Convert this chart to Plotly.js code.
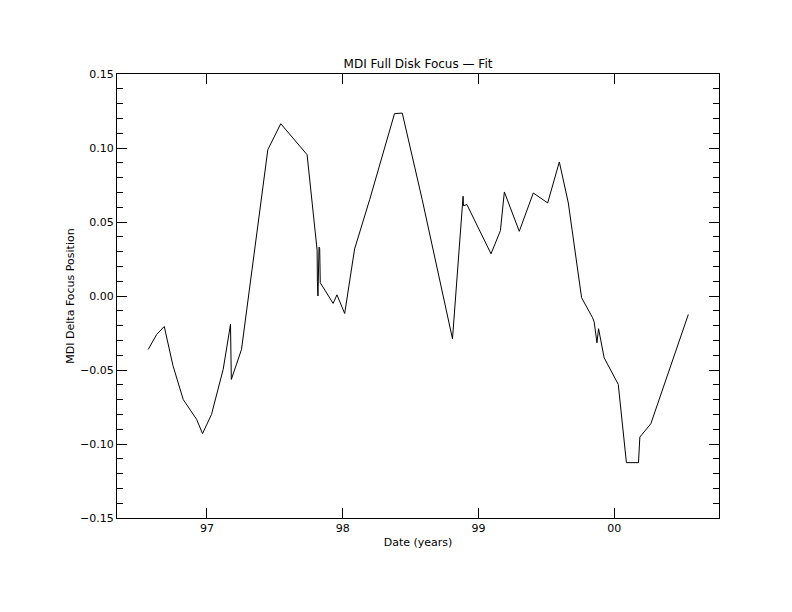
<!DOCTYPE html>
<html>
<head>
<meta charset="utf-8">
<script src="https://cdn.plot.ly/plotly-3.0.1.min.js"></script>
<style>html,body{margin:0;padding:0;background:#fff;}</style>
</head>
<body>
<div id="chart" style="width:792px;height:612px;"></div>
<script>
// Date in fractional years (97 = 1997.0, 100 = 2000.0)
const dateYears = [
  96.568, 96.630, 96.686, 96.750, 96.826, 96.924, 96.968, 97.034, 97.120, 97.174,
  97.180, 97.255, 97.449, 97.544, 97.738, 97.812, 97.814, 97.818, 97.826, 97.831,
  97.835, 97.930, 97.958, 98.015, 98.088, 98.199, 98.382, 98.439, 98.586, 98.809,
  98.887, 98.890, 98.915, 99.093, 99.162, 99.191, 99.301, 99.404, 99.510, 99.596,
  99.662, 99.760, 99.841, 99.853, 99.873, 99.885, 99.926, 100.030, 100.090, 100.179,
  100.189, 100.270, 100.546
];
const focusDelta = [
  -0.0361, -0.0260, -0.0206, -0.0470, -0.0700, -0.0833, -0.0930, -0.0800, -0.0496, -0.0192,
  -0.0564, -0.0361, 0.0989, 0.1164, 0.0955, 0.0310, 0.0100, 0.0000, 0.0330, 0.0320,
  0.0090, -0.0050, 0.0008, -0.0118, 0.0318, 0.0651, 0.1232, 0.1236, 0.0651, -0.0289,
  0.0674, 0.0610, 0.0618, 0.0285, 0.0442, 0.0703, 0.0437, 0.0696, 0.0629, 0.0906,
  0.0629, -0.0012, -0.0147, -0.0177, -0.0316, -0.0221, -0.0417, -0.0597, -0.1126, -0.1126,
  -0.0953, -0.0863, -0.0125
];
const xTickVals = [97, 98, 99, 100];
const xTickText = ['97', '98', '99', '00'];

const font = {family: 'DejaVu Sans, sans-serif', size: 11, color: '#000'};

const trace = {
  x: dateYears,
  y: focusDelta,
  type: 'scatter',
  mode: 'lines',
  line: {color: '#000', width: 1},
  hoverinfo: 'skip'
};

const layout = {
  width: 792,
  height: 612,
  margin: {l: 117, r: 73, t: 74, b: 94, pad: 0},
  paper_bgcolor: '#fff',
  plot_bgcolor: '#fff',
  showlegend: false,
  font: font,
  title: {
    text: 'MDI Full Disk Focus \u2014 Fit',
    font: {family: 'DejaVu Sans, sans-serif', size: 12, color: '#000'},
    x: 0.5, xref: 'paper', xanchor: 'center',
    y: 1, yref: 'paper', yanchor: 'bottom',
    pad: {b: 6}
  },
  xaxis: {
    range: [96.338, 100.772],
    tickvals: xTickVals,
    ticktext: xTickText,
    ticks: 'inside',
    ticklen: 10,
    tickwidth: 1,
    tickcolor: '#000',
    showline: true,
    linecolor: '#000',
    linewidth: 1,
    mirror: 'ticks',
    showgrid: false,
    zeroline: false,
    tickfont: font,
    title: {text: 'Date (years)', font: font, standoff: 4}
  },
  yaxis: {
    range: [-0.15, 0.15],
    tick0: -0.15,
    dtick: 0.05,
    tickformat: '.2f',
    ticks: 'inside',
    ticklen: 10,
    tickwidth: 1,
    tickcolor: '#000',
    minor: {dtick: 0.01, ticks: 'inside', ticklen: 6, tickwidth: 1, tickcolor: '#000', showgrid: false},
    showline: true,
    linecolor: '#000',
    linewidth: 1,
    mirror: 'ticks',
    showgrid: false,
    zeroline: false,
    tickfont: font,
    title: {text: 'MDI Delta Focus Position', font: font, standoff: 3}
  }
};

Plotly.newPlot('chart', [trace], layout, {staticPlot: true, displayModeBar: false});
</script>
</body>
</html>
